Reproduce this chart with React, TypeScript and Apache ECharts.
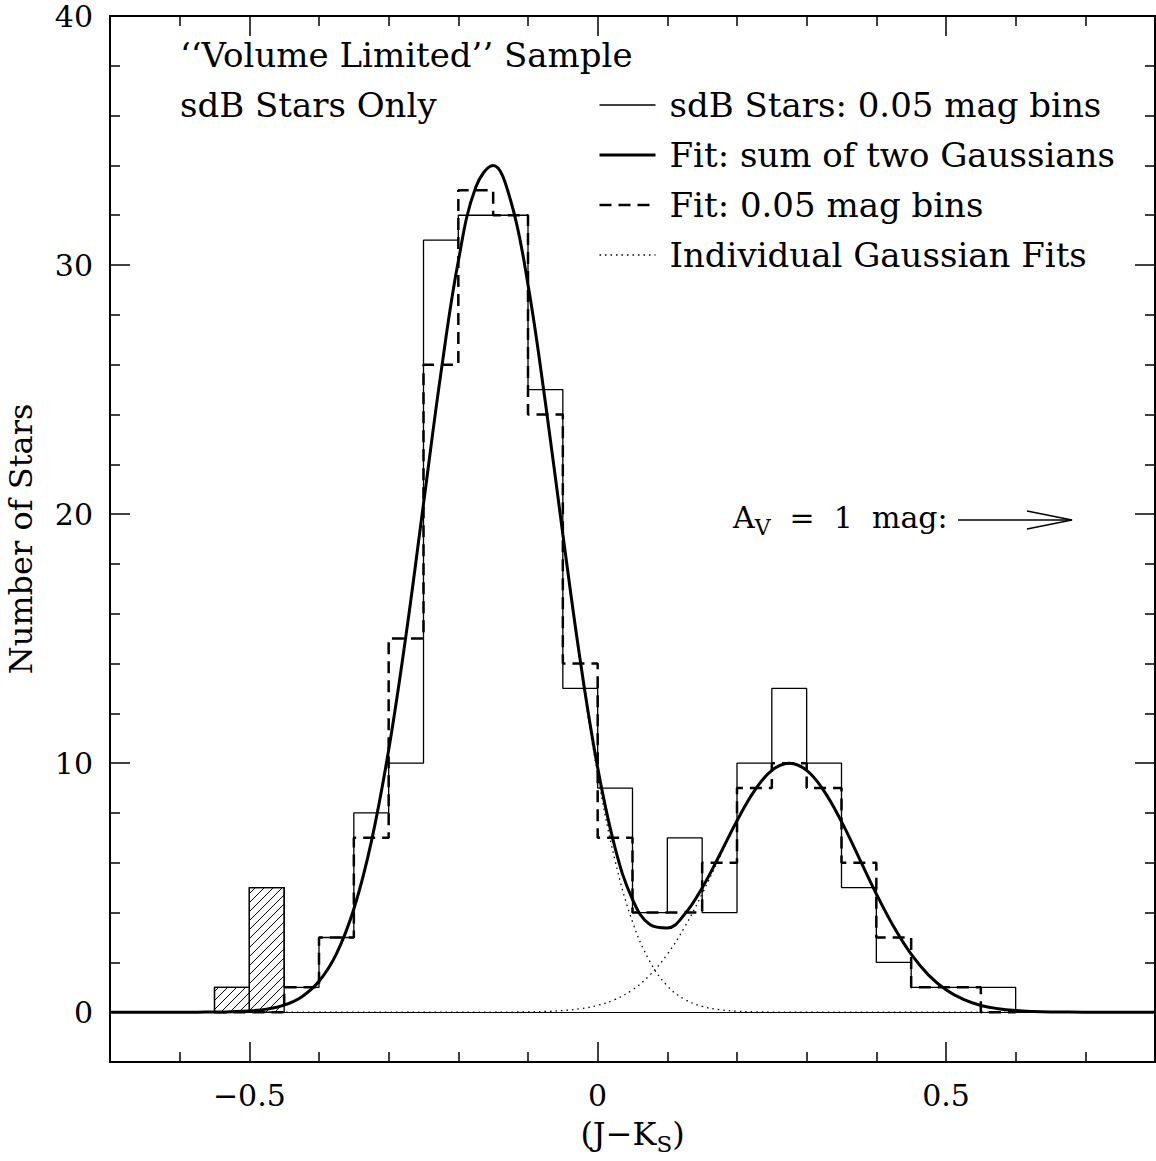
import React, { useEffect, useRef } from 'react';
import * as echarts from 'echarts';

const FONT = 'DejaVu Serif';
const TEXT_SIZE = 34;
const TICK_SIZE = 30;

// Histogram bins (0.05 mag)
const binLeft = [-0.55, -0.5, -0.45, -0.4, -0.35, -0.3, -0.25, -0.2, -0.15, -0.1, -0.05, 0, 0.05, 0.1, 0.15, 0.2, 0.25, 0.3, 0.35, 0.4, 0.45, 0.5, 0.55];
const binRight = [-0.5, -0.45, -0.4, -0.35, -0.3, -0.25, -0.2, -0.15, -0.1, -0.05, 0, 0.05, 0.1, 0.15, 0.2, 0.25, 0.3, 0.35, 0.4, 0.45, 0.5, 0.55, 0.6];
const sdbCounts = [1, 5, 1, 3, 8, 10, 31, 32, 32, 25, 13, 9, 4, 7, 4, 10, 13, 10, 5, 2, 1, 1, 1];
const fitBinCounts = [0, 0, 1, 3, 7, 15, 26, 33, 32, 24, 14, 7, 4, 4, 6, 9, 10, 9, 6, 3, 1, 1, 0];

// Hatched bins
const hatchedLeft = [-0.55, -0.5];
const hatchedRight = [-0.5, -0.45];
const hatchedCounts = [1, 5];

// Fitted curves
const curveX = [-0.7, -0.65, -0.6, -0.575, -0.55, -0.525, -0.5, -0.475, -0.45, -0.425, -0.4, -0.375, -0.35, -0.325, -0.3, -0.275, -0.25, -0.225, -0.2, -0.175, -0.15, -0.125, -0.1, -0.075, -0.05, -0.025, 0, 0.025, 0.05, 0.075, 0.1, 0.125, 0.15, 0.175, 0.2, 0.225, 0.25, 0.275, 0.3, 0.325, 0.35, 0.375, 0.4, 0.425, 0.45, 0.475, 0.5, 0.525, 0.55, 0.575, 0.6, 0.625, 0.65, 0.7, 0.75, 0.8];
const sumFit = [0, 0, 0.001, 0.002, 0.007, 0.019, 0.049, 0.123, 0.284, 0.614, 1.241, 2.345, 4.141, 6.83, 10.53, 15.16, 20.41, 25.66, 30.16, 33.12, 34.0, 32.6, 29.21, 24.47, 19.19, 14.12, 9.82, 6.6, 4.53, 3.52, 3.38, 3.94, 4.99, 6.31, 7.69, 8.89, 9.71, 10.0, 9.71, 8.88, 7.65, 6.21, 4.75, 3.43, 2.33, 1.49, 0.9, 0.51, 0.27, 0.14, 0.066, 0.029, 0.012, 0.002, 0, 0];
const gauss1 = [0, 0, 0.001, 0.002, 0.007, 0.019, 0.049, 0.123, 0.284, 0.614, 1.241, 2.345, 4.141, 6.83, 10.53, 15.16, 20.41, 25.66, 30.16, 33.12, 34.0, 32.59, 29.2, 24.44, 19.12, 13.98, 9.55, 6.09, 3.63, 2.03, 1.055, 0.513, 0.233, 0.099, 0.039, 0.015, 0.005, 0.002, 0.001, 0, 0, 0, 0, 0, 0, 0, 0, 0, 0, 0, 0, 0, 0, 0, 0, 0];
const gauss2 = [0, 0, 0, 0, 0, 0, 0, 0, 0, 0, 0, 0, 0, 0, 0, 0, 0, 0, 0, 0.001, 0.002, 0.005, 0.012, 0.029, 0.066, 0.138, 0.274, 0.511, 0.899, 1.49, 2.328, 3.427, 4.754, 6.213, 7.651, 8.878, 9.707, 10, 9.707, 8.878, 7.651, 6.213, 4.754, 3.427, 2.328, 1.49, 0.899, 0.511, 0.274, 0.138, 0.066, 0.029, 0.012, 0.002, 0, 0];

// Axes
const xMin = -0.7;
const xMax = 0.8;
const yMin = -2;
const yMax = 40;
const xMajorTicks = [-0.5, 0, 0.5];
const xMinorTicks = [-0.6, -0.4, -0.3, -0.2, -0.1, 0.1, 0.2, 0.3, 0.4, 0.6, 0.7];
const yMajorTicks = [0, 10, 20, 30, 40];
const yMinorTicks = [2, 4, 6, 8, 12, 14, 16, 18, 22, 24, 26, 28, 32, 34, 36, 38];

function stepPoints(lefts: number[], rights: number[], vals: number[]) {
  const pts: number[][] = [[lefts[0], 0]];
  for (let i = 0; i < vals.length; i++) {
    pts.push([lefts[i], vals[i]]);
    pts.push([rights[i], vals[i]]);
  }
  pts.push([rights[rights.length - 1], 0]);
  return pts;
}

const zip = (xs: number[], ys: number[]) => xs.map((x, i) => [x, ys[i]]);

const minus = (v: number) => String(v).replace('-', '\u2212');

function makeX(position: string, major: boolean, showLabel: boolean) {
  return {
    type: 'value',
    position,
    min: xMin,
    max: xMax,
    axisLine: { show: major, onZero: false, lineStyle: { color: '#000', width: 2 } },
    axisTick: {
      show: true,
      inside: true,
      length: major ? 20 : 10,
      customValues: major ? xMajorTicks : xMinorTicks,
      lineStyle: { color: '#000', width: 1.5 },
    },
    axisLabel: {
      show: showLabel,
      customValues: xMajorTicks,
      formatter: (v: number) => minus(v),
      color: '#000',
      fontFamily: FONT,
      fontSize: TICK_SIZE,
      margin: 18,
    },
    splitLine: { show: false },
  };
}

function makeY(position: string, major: boolean, showLabel: boolean) {
  return {
    type: 'value',
    position,
    min: yMin,
    max: yMax,
    axisLine: { show: major, onZero: false, lineStyle: { color: '#000', width: 2 } },
    axisTick: {
      show: true,
      inside: true,
      length: major ? 20 : 10,
      customValues: major ? yMajorTicks : yMinorTicks,
      lineStyle: { color: '#000', width: 1.5 },
    },
    axisLabel: {
      show: showLabel,
      customValues: yMajorTicks,
      color: '#000',
      fontFamily: FONT,
      fontSize: TICK_SIZE,
      margin: 17,
    },
    splitLine: { show: false },
  };
}

export default function App() {
  const ref = useRef<HTMLDivElement>(null);

  useEffect(() => {
    if (!ref.current) return;
    const chart = echarts.init(ref.current, null, { renderer: 'svg' });

    const xMain: any = makeX('bottom', true, true);
    xMain.name = '(J\u2212K{s|S})';
    xMain.nameLocation = 'middle';
    xMain.nameGap = 50;
    xMain.nameTextStyle = {
      color: '#000',
      fontFamily: FONT,
      fontSize: 32,
      rich: { s: { fontFamily: FONT, fontSize: 23, color: '#000', padding: [20, 0, 0, 0] } },
    };

    const yMain: any = makeY('left', true, true);
    yMain.name = 'Number of Stars';
    yMain.nameLocation = 'middle';
    yMain.nameRotate = 90;
    yMain.nameGap = 73;
    yMain.nameTextStyle = { color: '#000', fontFamily: FONT, fontSize: 32 };

    const option: any = {
      animation: false,
      backgroundColor: '#fff',
      textStyle: { fontFamily: FONT },
      grid: { left: 110, right: 1, top: 16, bottom: 99, containLabel: false, outerBoundsMode: 'none' },
      xAxis: [xMain, makeX('bottom', false, false), makeX('top', true, false), makeX('top', false, false)],
      yAxis: [yMain, makeY('left', false, false), makeY('right', true, false), makeY('right', false, false)],
      legend: {
        orient: 'vertical',
        left: 598,
        top: 88,
        padding: 0,
        itemWidth: 56,
        itemHeight: 4,
        itemGap: 16,
        selectedMode: false,
        itemStyle: { opacity: 0 },
        lineStyle: { width: 'inherit' },
        textStyle: { color: '#000', fontFamily: FONT, fontSize: TEXT_SIZE, lineHeight: 30, padding: [0, 0, 0, 9] },
        data: ['sdB Stars: 0.05 mag bins', 'Fit: sum of two Gaussians', 'Fit: 0.05 mag bins', 'Individual Gaussian Fits'],
      },
      series: [
        {
          name: 'sdB Stars: 0.05 mag bins',
          type: 'line',
          data: stepPoints(binLeft, binRight, sdbCounts),
          symbol: 'none',
          lineStyle: { color: '#000', width: 1.3 },
          itemStyle: { color: '#000' },
          markLine: {
            silent: true,
            symbol: 'none',
            label: { show: false },
            lineStyle: { color: '#000', width: 1, type: 'solid' },
            data: [{ yAxis: 0 }],
          },
          z: 3,
        },
        {
          name: 'Hatched',
          type: 'custom',
          data: hatchedLeft.map((l, i) => [l, hatchedRight[i], hatchedCounts[i]]),
          encode: { x: [0, 1], y: 2 },
          renderItem: (params: any, api: any) => {
            const p0 = api.coord([api.value(0), 0]);
            const p1 = api.coord([api.value(1), api.value(2)]);
            const x0 = p0[0], x1 = p1[0], y0 = p1[1], y1 = p0[1];
            const step = 9;
            const children: any[] = [];
            for (let c = Math.ceil((x0 + y0) / step) * step; c < x1 + y1; c += step) {
              const xa = Math.max(x0, c - y1);
              const xb = Math.min(x1, c - y0);
              if (xb > xa) {
                children.push({
                  type: 'line',
                  shape: { x1: xa, y1: c - xa, x2: xb, y2: c - xb },
                  style: { stroke: '#000', lineWidth: 1 },
                });
              }
            }
            children.push({
              type: 'rect',
              shape: { x: x0, y: y0, width: x1 - x0, height: y1 - y0 },
              style: { fill: 'none', stroke: '#000', lineWidth: 1.3 },
            });
            return { type: 'group', children };
          },
          z: 2,
        },
        {
          name: 'Fit: sum of two Gaussians',
          type: 'line',
          data: zip(curveX, sumFit),
          symbol: 'none',
          smooth: 0.4,
          lineStyle: { color: '#000', width: 3 },
          itemStyle: { color: '#000' },
          z: 5,
        },
        {
          name: 'Fit: 0.05 mag bins',
          type: 'line',
          data: stepPoints(binLeft, binRight, fitBinCounts),
          symbol: 'none',
          lineStyle: { color: '#000', width: 2.5, type: [12, 7] },
          itemStyle: { color: '#000' },
          z: 4,
        },
        {
          name: 'Individual Gaussian Fits',
          type: 'line',
          data: zip(curveX, gauss1),
          symbol: 'none',
          smooth: 0.4,
          lineStyle: { color: '#000', width: 1.3, type: [1.5, 4] },
          itemStyle: { color: '#000' },
          z: 3,
        },
        {
          name: 'Individual Gaussian Fits',
          type: 'line',
          data: zip(curveX, gauss2),
          symbol: 'none',
          smooth: 0.4,
          lineStyle: { color: '#000', width: 1.3, type: [1.5, 4] },
          itemStyle: { color: '#000' },
          z: 3,
        },
      ],
      graphic: [
        {
          type: 'text',
          x: 180,
          y: 55,
          style: {
            text: '\u2018\u2018Volume Limited\u2019\u2019 Sample',
            fontFamily: FONT,
            fontSize: TEXT_SIZE,
            fill: '#000',
            textVerticalAlign: 'middle',
            verticalAlign: 'middle',
          },
        },
        {
          type: 'text',
          x: 180,
          y: 105,
          style: {
            text: 'sdB Stars Only',
            fontFamily: FONT,
            fontSize: TEXT_SIZE,
            fill: '#000',
            textVerticalAlign: 'middle',
            verticalAlign: 'middle',
          },
        },
        {
          type: 'text',
          x: 733,
          y: 517,
          style: {
            text: 'A{s|V}  =  1  mag:',
            fontFamily: FONT,
            fontSize: 30,
            fill: '#000',
            textVerticalAlign: 'middle',
            verticalAlign: 'middle',
            rich: { s: { fontFamily: FONT, fontSize: 22, fill: '#000', padding: [20, 0, 0, 0] } },
          },
        },
        {
          type: 'line',
          shape: { x1: 958, y1: 520, x2: 1072, y2: 520 },
          style: { stroke: '#000', lineWidth: 1.5 },
        },
        {
          type: 'polyline',
          shape: { points: [[1027, 511], [1072, 520], [1027, 529]] },
          style: { stroke: '#000', lineWidth: 1.5, fill: 'none' },
        },
      ],
    };

    chart.setOption(option);
    return () => chart.dispose();
  }, []);

  return (
    <div
      ref={ref}
      style={{ position: 'absolute', left: 0, top: 0, width: 1156, height: 1161, background: '#fff' }}
    />
  );
}
